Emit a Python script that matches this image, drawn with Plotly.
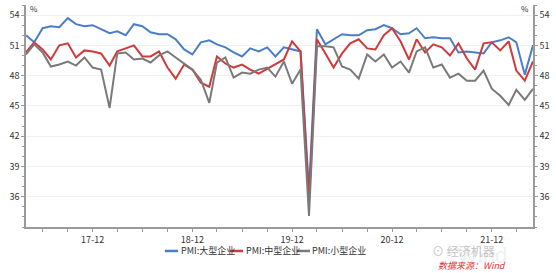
import plotly.graph_objects as go
import pandas as pd

months = pd.date_range("2017-04-01", "2022-05-01", freq="MS").strftime("%Y-%m-%d").tolist()

large = [52.0, 51.3, 52.7, 52.9, 52.8, 53.7, 53.1, 52.9, 53.0, 52.6, 52.2, 52.4,
         52.0, 53.1, 52.9, 52.3, 52.1, 52.1, 51.6, 50.6, 50.1, 51.3, 51.5, 51.1,
         50.8, 50.3, 49.9, 50.7, 50.4, 50.8, 49.9, 50.8, 50.6, 50.4, 36.6, 52.6,
         51.1, 51.6, 52.1, 52.0, 52.0, 52.5, 52.6, 53.0, 52.7, 52.1, 52.2, 52.7,
         51.7, 51.8, 51.7, 51.7, 50.3, 50.4, 50.3, 50.2, 51.3, 51.5, 51.8, 51.3,
         48.1, 51.0]
medium = [50.3, 51.3, 50.6, 49.6, 51.0, 51.2, 49.8, 50.5, 50.4, 50.2, 49.0, 50.4,
          50.7, 51.0, 49.9, 49.9, 50.4, 48.8, 47.7, 49.1, 48.6, 47.3, 46.9, 49.9,
          49.2, 48.8, 49.1, 48.6, 48.2, 48.7, 49.1, 49.6, 51.4, 50.4, 35.5, 51.6,
          50.2, 48.8, 50.2, 51.2, 51.6, 50.7, 50.6, 52.0, 52.7, 51.4, 49.6, 51.6,
          50.3, 51.1, 50.8, 50.0, 51.2, 49.7, 48.6, 51.2, 51.3, 50.5, 51.4, 48.5,
          47.5, 49.4]
small = [50.1, 51.1, 50.3, 48.9, 49.1, 49.4, 49.0, 49.8, 48.8, 48.6, 44.8, 50.2,
         50.3, 49.6, 49.7, 49.3, 50.0, 50.4, 49.8, 49.2, 48.6, 47.6, 45.3, 49.3,
         49.8, 47.8, 48.3, 48.2, 48.6, 48.8, 47.9, 49.4, 47.2, 48.6, 34.1, 50.9,
         50.9, 50.8, 48.9, 48.6, 47.7, 50.1, 49.4, 50.1, 48.8, 49.4, 48.3, 50.4,
         50.8, 48.8, 49.1, 47.8, 48.2, 47.5, 47.5, 48.5, 46.7, 46.0, 45.1, 46.6,
         45.6, 46.7]

series_names = ["PMI:大型企业", "PMI:中型企业", "PMI:小型企业"]
colors = ["#4a7fc8", "#d03a3a", "#7a7a7a"]

x_tickvals = ["2017-12-01", "2018-12-01", "2019-12-01", "2020-12-01", "2021-12-01"]
x_ticktext = ["17-12", "18-12", "19-12", "20-12", "21-12"]
y_tickvals = [36, 39, 42, 45, 48, 51, 54]

font_main = "Noto Sans CJK SC"

fig = go.Figure()
for name, vals, col in zip(series_names, [large, medium, small], colors):
    fig.add_trace(go.Scatter(x=months, y=vals, mode="lines", name=name,
                             line=dict(color=col, width=2), showlegend=False))
# invisible trace to activate right axis
fig.add_trace(go.Scatter(x=months, y=large, yaxis="y2", mode="lines",
                         line=dict(color="rgba(0,0,0,0)", width=0),
                         showlegend=False, hoverinfo="skip"))

axis_col = "#9a9a9a"
yax = dict(range=[33, 55], tickvals=y_tickvals, ticks="outside", ticklen=3,
           tickcolor=axis_col, showline=True, linecolor=axis_col, linewidth=1.5,
           zeroline=False,
           tickfont=dict(size=9, color="#333333", family=font_main),
           minor=dict(dtick=1, ticks="outside", ticklen=2, tickcolor=axis_col, showgrid=False))

fig.update_layout(
    width=556, height=273,
    margin=dict(l=26, r=23, t=5, b=46),
    paper_bgcolor="white", plot_bgcolor="white",
    showlegend=False,
    xaxis=dict(type="date", range=["2017-04-01", "2022-05-01"],
               tickvals=x_tickvals, ticktext=x_ticktext, ticks="outside", ticklen=3,
               tickcolor=axis_col, showline=True, linecolor=axis_col, linewidth=1.5,
               showgrid=False, zeroline=False,
               tickfont=dict(size=9, color="#333333", family=font_main),
               minor=dict(tickvals=pd.date_range("2017-06-01", "2022-03-01", freq="3MS").strftime("%Y-%m-%d").tolist(),
                          ticks="outside", ticklen=3, tickcolor=axis_col, showgrid=False)),
    yaxis=dict(side="left", showgrid=True, gridcolor="#f1f1f1", gridwidth=1, **yax),
    yaxis2=dict(side="right", overlaying="y", showgrid=False, **yax),
)

# manual legend (sample line + label) below the plot
legend_x = [0.274, 0.402, 0.534]
legend_y = -0.108
for name, col, lx in zip(series_names, colors, legend_x):
    fig.add_shape(type="line", xref="paper", yref="paper", x0=lx, x1=lx + 0.026,
                  y0=legend_y, y1=legend_y, line=dict(color=col, width=2.5))
    fig.add_annotation(text=name, xref="paper", yref="paper", x=lx + 0.027, y=legend_y,
                       xanchor="left", yanchor="middle", showarrow=False,
                       font=dict(size=9, color="#333333", family=font_main))

fig.add_annotation(text="%", xref="paper", yref="paper", x=0, y=1.0, xanchor="left", yanchor="top",
                   xshift=2, yshift=4, showarrow=False, font=dict(size=8, color="#333333", family=font_main))
fig.add_annotation(text="%", xref="paper", yref="paper", x=1, y=1.0, xanchor="right", yanchor="top",
                   xshift=-2, yshift=4, showarrow=False, font=dict(size=8, color="#333333", family=font_main))
fig.add_annotation(text="Wind", xref="paper", yref="paper", x=0.90, y=-0.13, xanchor="center", yanchor="middle",
                   showarrow=False, font=dict(size=22, color="rgba(200,200,200,0.28)", family="Liberation Sans"))
fig.add_annotation(text="⊙ 经济机器", xref="paper", yref="paper", x=0.862, y=-0.108, xanchor="center", yanchor="middle",
                   showarrow=False, font=dict(size=12, color="#c4c4c4", family=font_main))
fig.add_annotation(text="<i>数据来源：Wind</i>", xref="paper", yref="paper", x=0.951, y=-0.175, xanchor="right", yanchor="middle",
                   showarrow=False, font=dict(size=9, color="#e8312f", family=font_main))

fig.write_html("out.html")
